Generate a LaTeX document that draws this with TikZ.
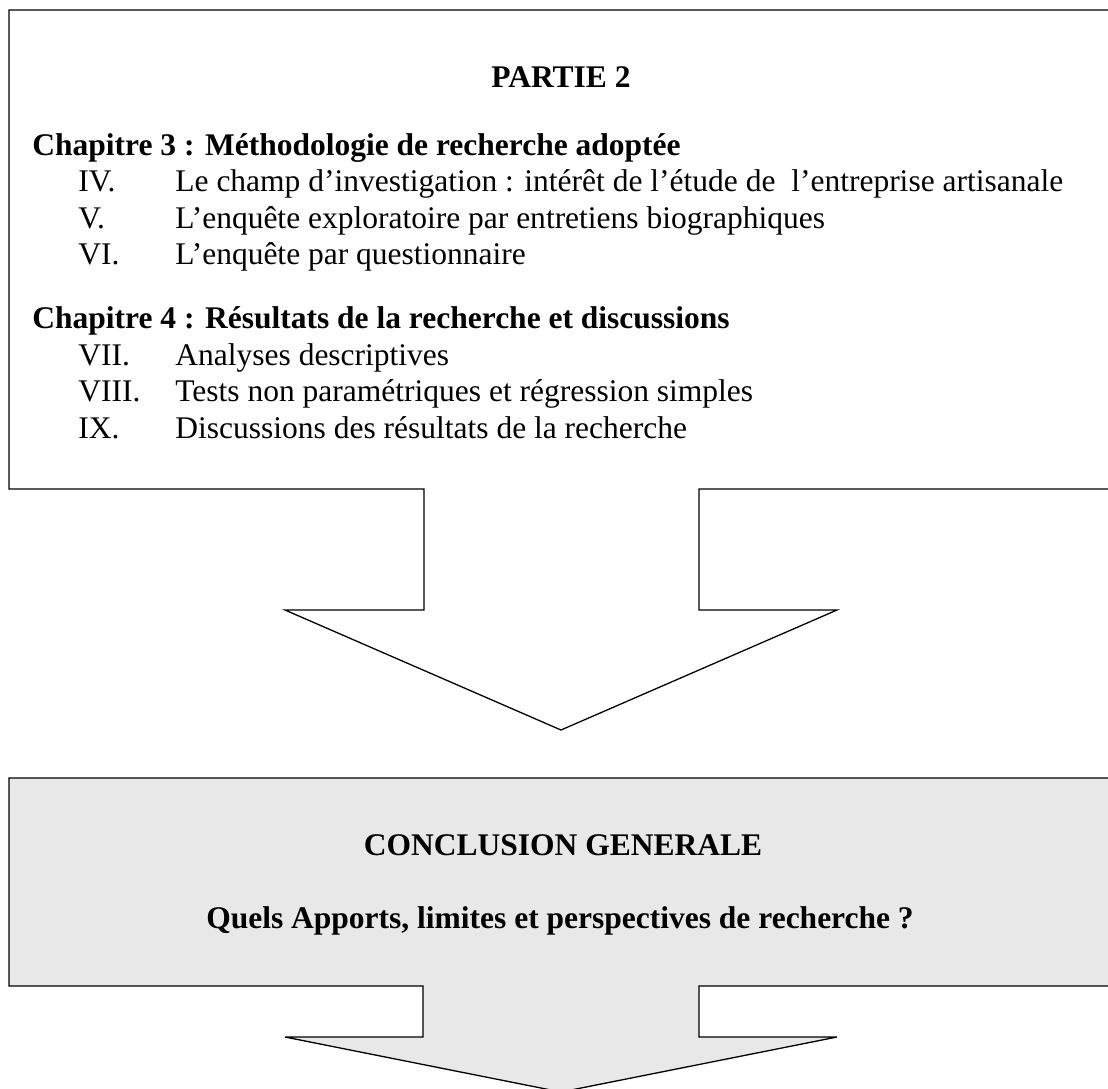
\documentclass[tikz,border=0pt]{standalone}
\usepackage{fontspec}
\setmainfont{Liberation Serif}
\usepackage{xcolor}
\usetikzlibrary{positioning}
\definecolor{grisclair}{HTML}{E8E8E8}
\newcommand{\taille}{\fontsize{15.75}{18}\selectfont}

\begin{document}
\begin{tikzpicture}[x=0.5pt, y=-0.5pt,
    cadre/.style={line width=0.65pt, line join=miter},
    titre/.style={anchor=base, inner sep=0pt, font=\taille\bfseries},
    chap/.style={anchor=base west, inner sep=0pt, font=\taille\bfseries},
    num/.style={anchor=base west, inner sep=0pt, font=\taille},
    ligne/.style={anchor=base west, inner sep=0pt, font=\taille}]
    \clip (0,0) rectangle (1108,1088);

    % Partie 2 et sa fleche
    \coordinate (p2hd) at (1120,10);
    \coordinate (p2hg) at (9,10);
    \coordinate (p2bg) at (9,489);
    \coordinate (p2bd) at (1120,489);
    \coordinate (f1a) at (424,489);
    \coordinate (f1b) at (424,610);
    \coordinate (f1c) at (285,610);
    \coordinate (f1pointe) at (561,730);
    \coordinate (f1d) at (837,610);
    \coordinate (f1e) at (699,610);
    \coordinate (f1f) at (699,489);
    \draw[cadre] (p2hd) -- (p2hg) -- (p2bg) -- (f1a) -- (f1b) -- (f1c) -- (f1pointe)
        -- (f1d) -- (f1e) -- (f1f) -- (p2bd);

    \node[titre] (partie) at (561,87) {PARTIE 2};

    \node[chap] (chap3) at (32,155) {Chapitre 3 : Méthodologie de recherche adoptée};
    \node[num] (n4) at (78,191.5) {IV.};
    \node[ligne] (l4) at (175,191.5) {Le champ d’investigation : intérêt de l’étude de~ l’entreprise artisanale};
    \node[num] (n5) at (78,228) {V.};
    \node[ligne] (l5) at (175,228) {L’enquête exploratoire par entretiens biographiques};
    \node[num] (n6) at (78,264.5) {VI.};
    \node[ligne] (l6) at (175,264.5) {L’enquête par questionnaire};

    \node[chap] (chap4) at (32,328.5) {Chapitre 4 : Résultats de la recherche et discussions};
    \node[num] (n7) at (78,365) {VII.};
    \node[ligne] (l7) at (175,365) {Analyses descriptives};
    \node[num] (n8) at (78,401.5) {VIII.};
    \node[ligne] (l8) at (175,401.5) {Tests non paramétriques et régression simples};
    \node[num] (n9) at (78,438) {IX.};
    \node[ligne] (l9) at (175,438) {Discussions des résultats de la recherche};

    % Conclusion generale et sa fleche
    \coordinate (cghd) at (1120,778);
    \coordinate (cghg) at (9,778);
    \coordinate (cgbg) at (9,986);
    \coordinate (cgbd) at (1120,986);
    \coordinate (f2a) at (423,986);
    \coordinate (f2b) at (423,1037);
    \coordinate (f2c) at (285,1037);
    \coordinate (f2pointe) at (561,1092);
    \coordinate (f2d) at (837,1037);
    \coordinate (f2e) at (699,1037);
    \coordinate (f2f) at (699,986);
    \draw[cadre, fill=grisclair] (cghd) -- (cghg) -- (cgbg) -- (f2a) -- (f2b) -- (f2c) -- (f2pointe)
        -- (f2d) -- (f2e) -- (f2f) -- (cgbd) -- cycle;

    \node[titre] (concl) at (563,855) {CONCLUSION GENERALE};
    \node[titre] (quels) at (560,928) {Quels Apports, limites et perspectives de recherche ?};
\end{tikzpicture}
\end{document}
